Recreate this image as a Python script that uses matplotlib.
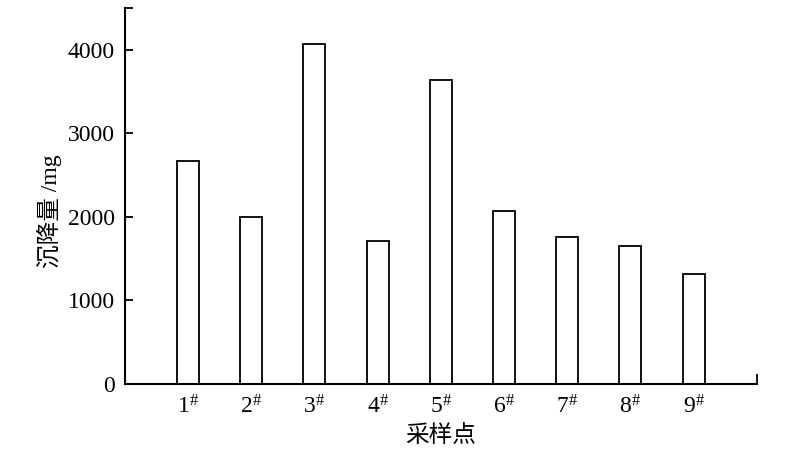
import numpy as np
import matplotlib
matplotlib.use("Agg")
import matplotlib.pyplot as plt
from matplotlib.ticker import FixedLocator

plt.rcParams['font.family'] = ['Liberation Serif', 'Noto Sans CJK SC']
plt.rcParams['mathtext.fontset'] = 'stix'

sites = ['1', '2', '3', '4', '5', '6', '7', '8', '9']
settle = [2670, 2000, 4075, 1715, 3635, 2070, 1755, 1652, 1315]
yticks = [0, 1000, 2000, 3000, 4000]

x = np.arange(1, len(sites) + 1)

fig = plt.figure(figsize=(8, 4.57), dpi=100)
ax = fig.add_axes([0.156, 0.16, 0.79, 0.822])

ax.bar(x, settle, width=0.35, color='white', edgecolor='black', linewidth=1.3)

ax.set_xlim(0, 10)
ax.set_ylim(0, 4500)

ax.set_xticks(x)
ax.set_xticklabels([r'$\mathregular{' + s + r'^{\#}}$' for s in sites], fontsize=17)
ax.set_yticks(yticks)
ax.set_yticklabels([str(v) for v in yticks], fontsize=17)

ax.tick_params(axis='x', length=0, pad=8)
ax.tick_params(axis='y', direction='in', length=6, width=1.3, pad=7)

# little caps at the ends of the axes
ax.yaxis.set_minor_locator(FixedLocator([4500]))
ax.xaxis.set_minor_locator(FixedLocator([10]))
ax.tick_params(axis='y', which='minor', direction='in', length=6, width=1.3)
ax.tick_params(axis='x', which='minor', direction='in', length=7, width=1.3)

for side in ['top', 'right']:
    ax.spines[side].set_visible(False)
for side in ['left', 'bottom']:
    ax.spines[side].set_linewidth(1.5)

ax.set_xlabel('采样点', fontsize=17, family=['Noto Sans CJK SC'], labelpad=4)
ax.set_ylabel('沉降量 /mg', fontsize=17, family=['Liberation Serif', 'Noto Sans CJK SC'], labelpad=8)
ax.yaxis.set_label_coords(-0.1, 0.46)

fig.savefig('out.png', dpi=100)
